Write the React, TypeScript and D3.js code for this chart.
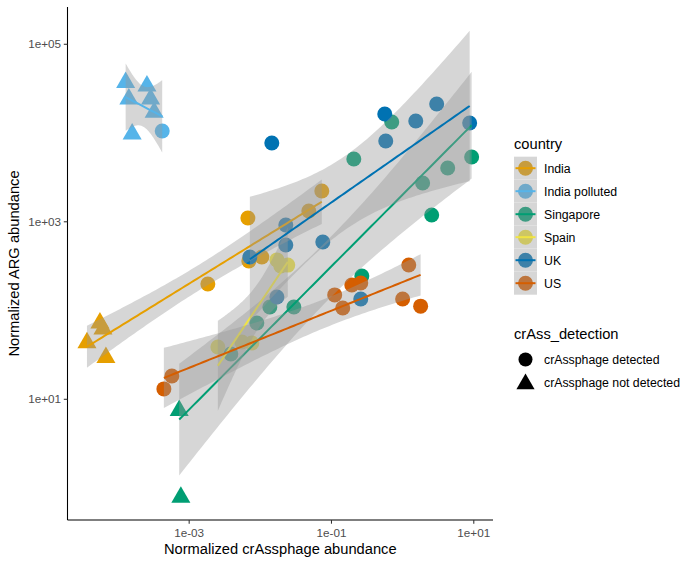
import React from 'react';
import * as d3 from 'd3';

const COUNTRIES = ['India', 'India polluted', 'Singapore', 'Spain', 'UK', 'US'];
const COLORS = ['#E69F00', '#56B4E9', '#009E73', '#F0E442', '#0072B2', '#D55E00'];
const DETECTION_LABELS = ['crAssphage detected', 'crAssphage not detected'];

// 1 = crAssphage detected (circle), 0 = not detected (triangle)
const indiaX = [5.57e-5, 6.14e-5, 3.66e-5, 6.76e-5, 1.83e-3, 6.68e-3, 6.89e-3, 0.0105, 0.048, 0.0731];
const indiaY = [72.4, 62.0, 43.4, 29.6, 199, 1104, 362, 401, 1324, 2223];
const indiaD = [0, 0, 0, 0, 1, 1, 1, 1, 1, 1];

const indiaPollutedX = [1.28e-4, 2.55e-4, 1.42e-4, 2.87e-4, 3.22e-4, 1.58e-4, 4.18e-4];
const indiaPollutedY = [37150, 33880, 24210, 24210, 17140, 9750, 10540];
const indiaPollutedD = [0, 0, 0, 0, 0, 0, 1];

const singaporeX = [7.24e-4, 7.64e-4, 3.85e-3, 8.93e-3, 0.0136, 0.0296, 0.267, 0.206, 0.703, 1.91, 4.3, 9.33, 2.56];
const singaporeY = [7.46, 0.787, 32.4, 72.4, 109.6, 109.6, 245, 5100, 13330, 2737, 4040, 5370, 1194];
const singaporeD = [0, 0, 1, 1, 1, 1, 1, 1, 1, 1, 1, 1, 1];

const spainX = [2.53e-3, 5.5e-3, 7.6e-3, 0.0171, 0.0194, 0.0243];
const spainY = [38.8, 44.2, 43.1, 372, 317, 325];
const spainD = [1, 1, 1, 1, 1, 1];

const ukX = [7.13e-3, 0.0145, 0.0171, 0.0228, 0.0228, 0.0755, 0.258, 0.561, 0.579, 1.53, 3.01, 8.75];
const ukY = [401, 7725, 142, 920, 548, 592, 135, 16400, 8130, 13680, 21250, 12980];
const ukD = [1, 1, 1, 1, 1, 1, 1, 1, 1, 1, 1, 1];

const usX = [4.41e-4, 5.71e-4, 0.111, 0.144, 0.193, 0.258, 1.22, 1.0, 1.79];
const usY = [13.1, 18.3, 150, 107, 194, 204, 326, 135, 112];
const usD = [1, 1, 1, 1, 1, 1, 1, 1, 1];

const X_TICKS = [1e-3, 1e-1, 1e1];
const X_TICK_LABELS = ['1e-03', '1e-01', '1e+01'];
const Y_TICKS = [1e1, 1e3, 1e5];
const Y_TICK_LABELS = ['1e+01', '1e+03', '1e+05'];

// two-sided 95% t quantiles, df = 1..15
const T975 = [12.706, 4.303, 3.182, 2.776, 2.571, 2.447, 2.365, 2.306, 2.262, 2.228, 2.201, 2.179, 2.16, 2.145, 2.131];

const FONT = '"Liberation Sans", Arial, Helvetica, sans-serif';
const W = 695;
const H = 565;
const PL = 67.5, PR = 493, PT = 7, PB = 520;

const groups = [
  { x: indiaX, y: indiaY, d: indiaD },
  { x: indiaPollutedX, y: indiaPollutedY, d: indiaPollutedD },
  { x: singaporeX, y: singaporeY, d: singaporeD },
  { x: spainX, y: spainY, d: spainD },
  { x: ukX, y: ukY, d: ukD },
  { x: usX, y: usY, d: usD },
].map((g, i) => ({ ...g, name: COUNTRIES[i], color: COLORS[i] }));

function smooth(xs: number[], ys: number[]) {
  const lx = xs.map(Math.log10);
  const ly = ys.map(Math.log10);
  const n = lx.length;
  const mx = d3.mean(lx) as number;
  const my = d3.mean(ly) as number;
  let sxx = 0, sxy = 0;
  for (let i = 0; i < n; i++) {
    sxx += (lx[i] - mx) ** 2;
    sxy += (lx[i] - mx) * (ly[i] - my);
  }
  const b = sxy / sxx;
  const a = my - b * mx;
  let sse = 0;
  for (let i = 0; i < n; i++) sse += (ly[i] - (a + b * lx[i])) ** 2;
  const s2 = sse / (n - 2);
  const t = T975[n - 3];
  const [lo, hi] = d3.extent(lx) as [number, number];
  const pts = d3.range(80).map((k) => {
    const v = lo + ((hi - lo) * k) / 79;
    const f = a + b * v;
    const se = Math.sqrt(s2 * (1 / n + (v - mx) ** 2 / sxx));
    return { x: 10 ** v, y: 10 ** f, lo: 10 ** (f - t * se), hi: 10 ** (f + t * se) };
  });
  return pts;
}

function triPath(cx: number, cy: number, r: number) {
  const h = 0.8660254 * r;
  return `M${cx},${cy - r}L${cx + h},${cy + r / 2}L${cx - h},${cy + r / 2}Z`;
}

export default function App() {
  const xs = d3.scaleLog().domain([10 ** -4.71, 10 ** 1.27]).range([PL, PR]);
  const ys = d3.scaleLog().domain([10 ** -0.36, 10 ** 5.42]).range([PB, PT]);

  const area = d3
    .area<any>()
    .x((d) => xs(d.x))
    .y0((d) => ys(d.lo))
    .y1((d) => ys(d.hi));
  const line = d3
    .line<any>()
    .x((d) => xs(d.x))
    .y((d) => ys(d.y));

  const R = 7.5;
  const TR = 11;

  return (
    <svg
      width={W}
      height={H}
      style={{ position: 'absolute', left: 0, top: 0, background: '#fff' }}
      fontFamily={FONT}
    >
      <rect x={0} y={0} width={W} height={H} fill="#fff" />
      <defs>
        <clipPath id="panel">
          <rect x={PL} y={PT} width={PR - PL} height={PB - PT} />
        </clipPath>
      </defs>
      <g clipPath="url(#panel)">
        {groups.map((g) =>
          g.x.map((xv, i) =>
            g.d[i] ? (
              <circle key={g.name + i} cx={xs(xv)} cy={ys(g.y[i])} r={R} fill={g.color} />
            ) : (
              <path key={g.name + i} d={triPath(xs(xv), ys(g.y[i]), TR)} fill={g.color} />
            )
          )
        )}
        {groups.map((g) => {
          const s = smooth(g.x, g.y);
          return (
            <g key={'s' + g.name}>
              <path d={area(s) as string} fill="#999999" fillOpacity={0.4} />
              <path d={line(s) as string} fill="none" stroke={g.color} strokeWidth={2} />
            </g>
          );
        })}
      </g>
      {/* axes */}
      <line x1={PL} x2={PL} y1={PT} y2={PB} stroke="#000" strokeWidth={1.07} />
      <line x1={PL} x2={PR} y1={PB} y2={PB} stroke="#000" strokeWidth={1.07} />
      {X_TICKS.map((t, i) => (
        <g key={'xt' + i}>
          <line x1={xs(t)} x2={xs(t)} y1={PB} y2={PB + 3.7} stroke="#333" strokeWidth={1.07} />
          <text x={xs(t)} y={PB + 17} textAnchor="middle" fontSize={11.7} fill="#4D4D4D">
            {X_TICK_LABELS[i]}
          </text>
        </g>
      ))}
      {Y_TICKS.map((t, i) => (
        <g key={'yt' + i}>
          <line x1={PL - 3.7} x2={PL} y1={ys(t)} y2={ys(t)} stroke="#333" strokeWidth={1.07} />
          <text x={PL - 6.5} y={ys(t)} dy="0.35em" textAnchor="end" fontSize={11.7} fill="#4D4D4D">
            {Y_TICK_LABELS[i]}
          </text>
        </g>
      ))}
      <text x={(PL + PR) / 2} y={554} textAnchor="middle" fontSize={14.7} fill="#000">
        Normalized crAssphage abundance
      </text>
      <text
        transform={`translate(19,${(PT + PB) / 2}) rotate(-90)`}
        textAnchor="middle"
        fontSize={14.7}
        fill="#000"
      >
        Normalized ARG abundance
      </text>

      {/* legend: country */}
      <text x={514} y={149} fontSize={14.7} fill="#000">
        country
      </text>
      {COUNTRIES.map((c, i) => {
        const cy = 168.2 + i * 23;
        return (
          <g key={'lg' + c}>
            <rect x={514} y={cy - 11.5} width={23} height={23} fill="#fff" />
            <circle cx={525.5} cy={cy} r={R} fill={COLORS[i]} />
            <rect x={514} y={cy - 11.5} width={23} height={23} fill="#999999" fillOpacity={0.4} />
            <line x1={515.5} x2={535.5} y1={cy} y2={cy} stroke={COLORS[i]} strokeWidth={2} />
            <text x={544} y={cy} dy="0.35em" fontSize={12.3} fill="#000">
              {c}
            </text>
          </g>
        );
      })}

      {/* legend: crAss_detection */}
      <text x={514} y={339} fontSize={14.7} fill="#000">
        crAss_detection
      </text>
      {DETECTION_LABELS.map((lab, i) => {
        const cy = 359.5 + i * 23;
        return (
          <g key={'ld' + i}>
            {i === 0 ? (
              <circle cx={525.5} cy={cy} r={7} fill="#000" />
            ) : (
              <path d={triPath(525.5, cy + 1.5, 10.5)} fill="#000" />
            )}
            <text x={544} y={cy} dy="0.35em" fontSize={12.3} fill="#000">
              {lab}
            </text>
          </g>
        );
      })}
    </svg>
  );
}
